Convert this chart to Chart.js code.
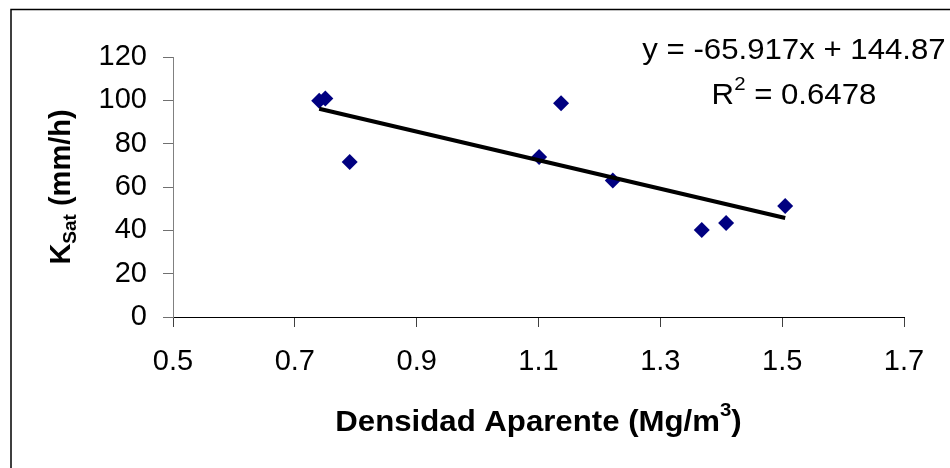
<!DOCTYPE html>
<html>
<head>
<meta charset="utf-8">
<script src="https://cdn.jsdelivr.net/npm/chart.js@4"></script>
<style>
  html, body { margin: 0; padding: 0; background: #fff; }
  #wrap { width: 950px; height: 468px; }
</style>
</head>
<body>
<div id="wrap"><canvas id="c" width="950" height="468"></canvas></div>
<script>
// Data
const densidad = [0.740, 0.750, 0.790, 1.101, 1.137, 1.222, 1.368, 1.408, 1.505];
const ksat     = [99.8, 100.8, 71.5, 73.8, 98.7, 63.0, 40.2, 43.4, 51.2];
const slope = -65.917;
const intercept = 144.87;
const r2 = 0.6478;
const xTicks = [0.5, 0.7, 0.9, 1.1, 1.3, 1.5, 1.7];
const yTicks = [0, 20, 40, 60, 80, 100, 120];

const points = densidad.map((x, i) => ({ x: x, y: ksat[i] }));
const xMin = Math.min(...densidad), xMax = Math.max(...densidad);
const trend = [xMin, xMax].map(x => ({ x: x, y: slope * x + intercept }));

const FONT = "'Liberation Sans', Arial, sans-serif";
const HS = 1.075; // horizontal stretch of the reference's text

const decorations = {
  id: 'decorations',
  afterDraw(chart) {
    const ctx = chart.ctx;
    const ca = chart.chartArea;
    ctx.save();
    // outer frame
    ctx.strokeStyle = '#000';
    ctx.lineWidth = 1.5;
    ctx.strokeRect(11, 9.5, 1200, 1200);
    ctx.fillStyle = '#000';
    ctx.textBaseline = 'alphabetic';
    ctx.textAlign = 'left';

    // equation (centered at x=794)
    ctx.save();
    ctx.translate(794, 0);
    ctx.scale(HS, 1);
    ctx.font = '29px ' + FONT;
    ctx.textAlign = 'center';
    const eq = 'y = ' + slope.toFixed(3) + 'x + ' + intercept.toFixed(2);
    ctx.fillText(eq, 0, 59);
    ctx.textAlign = 'left';
    const rBase = 'R', rRest = ' = ' + r2.toFixed(4);
    const wR = ctx.measureText(rBase).width;
    const wRest = ctx.measureText(rRest).width;
    ctx.font = '19px ' + FONT;
    const wSup = ctx.measureText('2').width;
    const total = wR + wSup + wRest;
    let x0 = -total / 2;
    ctx.font = '29px ' + FONT;
    ctx.fillText(rBase, x0, 104);
    ctx.font = '19px ' + FONT;
    ctx.fillText('2', x0 + wR, 90);
    ctx.font = '29px ' + FONT;
    ctx.fillText(rRest, x0 + wR + wSup, 104);
    ctx.restore();

    // x-axis title with superscript
    const cx = (ca.left + ca.right) / 2;
    ctx.save();
    ctx.translate(cx, 0);
    ctx.scale(HS, 1);
    const p1 = 'Densidad Aparente (Mg/m', p2 = '3', p3 = ')';
    ctx.font = 'bold 29px ' + FONT;
    const w1 = ctx.measureText(p1).width, w3 = ctx.measureText(p3).width;
    ctx.font = 'bold 19px ' + FONT;
    const w2 = ctx.measureText(p2).width;
    let xs = -(w1 + w2 + w3) / 2;
    ctx.font = 'bold 29px ' + FONT;
    ctx.fillText(p1, xs, 431);
    ctx.font = 'bold 19px ' + FONT;
    ctx.fillText(p2, xs + w1, 416);
    ctx.font = 'bold 29px ' + FONT;
    ctx.fillText(p3, xs + w1 + w2, 431);
    ctx.restore();

    // y-axis title with subscript, rotated
    const cy = (ca.top + ca.bottom) / 2;
    ctx.translate(70, cy);
    ctx.rotate(-Math.PI / 2);
    const q1 = 'K', q2 = 'Sat', q3 = ' (mm/h)';
    ctx.font = 'bold 29px ' + FONT;
    const v1 = ctx.measureText(q1).width, v3 = ctx.measureText(q3).width;
    ctx.font = 'bold 19px ' + FONT;
    const v2 = ctx.measureText(q2).width;
    let ys = -(v1 + v2 + v3) / 2;
    ctx.font = 'bold 29px ' + FONT;
    ctx.fillText(q1, ys, 0);
    ctx.font = 'bold 19px ' + FONT;
    ctx.fillText(q2, ys + v1, 6);
    ctx.font = 'bold 29px ' + FONT;
    ctx.fillText(q3, ys + v1 + v2, 0);
    ctx.restore();
  }
};

new Chart(document.getElementById('c'), {
  type: 'scatter',
  data: {
    datasets: [
      {
        type: 'line',
        label: 'Tendencia',
        data: trend,
        borderColor: '#000',
        borderWidth: 4,
        pointRadius: 0,
        fill: false,
        order: 0
      },
      {
        label: 'Ksat',
        data: points,
        pointStyle: 'rectRot',
        pointRadius: 8,
        backgroundColor: '#000080',
        borderColor: '#000080',
        borderWidth: 0,
        order: 1
      }
    ]
  },
  options: {
    responsive: false,
    devicePixelRatio: 1,
    animation: false,
    layout: { padding: { left: 0, right: 46, top: 57, bottom: 0 } },
    plugins: { legend: { display: false }, tooltip: { enabled: false }, title: { display: false } },
    scales: {
      x: {
        type: 'linear',
        min: xTicks[0],
        max: xTicks[xTicks.length - 1],
        afterBuildTicks: (s) => { s.ticks = xTicks.map(v => ({ value: v })); },
        afterFit: (s) => { s.height = 151; },
        ticks: {
          color: '#000',
          font: { family: FONT, size: 29 },
          padding: 18,
          maxRotation: 0,
          callback: (v) => Number(v).toFixed(1)
        },
        grid: { drawOnChartArea: false, drawTicks: true, tickLength: 10, color: '#404040', lineWidth: 1 },
        border: { display: true, color: '#000', width: 1 }
      },
      y: {
        type: 'linear',
        min: yTicks[0],
        max: yTicks[yTicks.length - 1],
        afterBuildTicks: (s) => { s.ticks = yTicks.map(v => ({ value: v })); },
        afterFit: (s) => { s.width = 173; },
        ticks: {
          color: '#000',
          font: { family: FONT, size: 29 },
          padding: 16
        },
        grid: { drawOnChartArea: false, drawTicks: true, tickLength: 10, color: '#707070', lineWidth: 1 },
        border: { display: true, color: '#808080', width: 1 }
      }
    }
  },
  plugins: [decorations]
});
</script>
</body>
</html>
